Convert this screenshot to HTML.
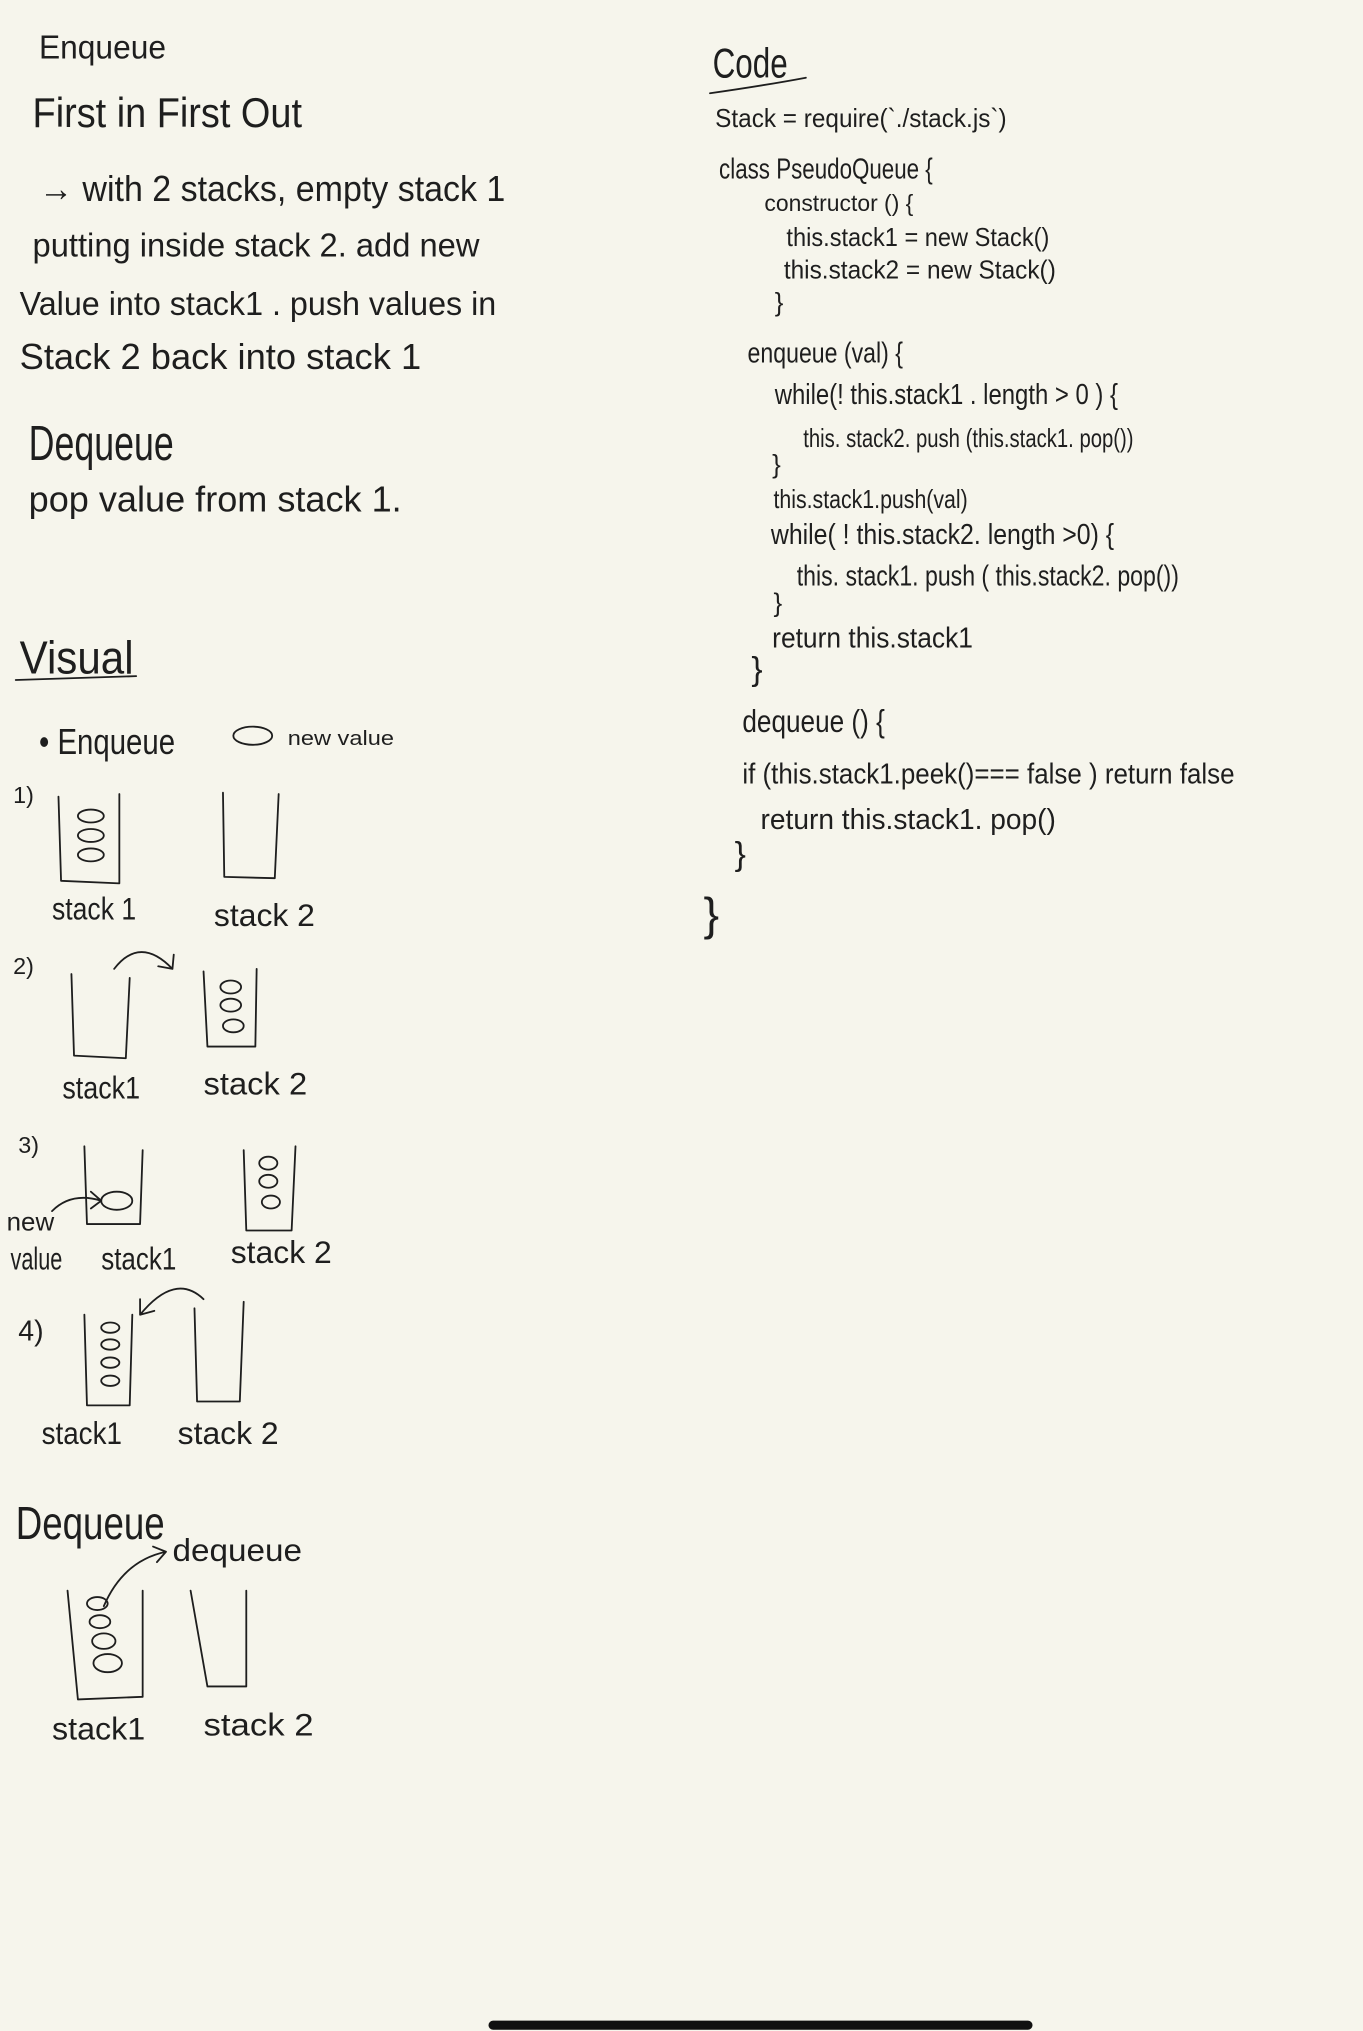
<!DOCTYPE html>
<html><head><meta charset="utf-8"><style>
html,body{margin:0;padding:0;background:#f6f5ec;}
svg{display:block;}
text{font-family:"Liberation Sans",sans-serif;fill:#1e1e1e;}
.s{fill:none;stroke:#1e1e1e;stroke-width:1.4;stroke-linecap:round;stroke-linejoin:round;}
</style></head><body>
<svg width="1363" height="2031" viewBox="0 0 1052 1568" xmlns="http://www.w3.org/2000/svg">
<rect width="1052" height="1568" fill="#f6f5ec"/>
<!-- left text -->
<text x="30" y="45" font-size="26" textLength="98" lengthAdjust="spacingAndGlyphs">Enqueue</text>
<text x="25" y="98" font-size="32" textLength="208" lengthAdjust="spacingAndGlyphs">First in First Out</text>
<text x="30" y="155" font-size="28" textLength="360" lengthAdjust="spacingAndGlyphs">→ with 2 stacks, empty stack 1</text>
<text x="25" y="198" font-size="26" textLength="345" lengthAdjust="spacingAndGlyphs">putting inside stack 2. add new</text>
<text x="15" y="243" font-size="26" textLength="368" lengthAdjust="spacingAndGlyphs">Value into stack1 . push values in</text>
<text x="15" y="285" font-size="28" textLength="310" lengthAdjust="spacingAndGlyphs">Stack 2 back into stack 1</text>
<text x="22" y="355" font-size="38" textLength="112" lengthAdjust="spacingAndGlyphs">Dequeue</text>
<text x="22" y="395" font-size="28" textLength="288" lengthAdjust="spacingAndGlyphs">pop value from stack 1.</text>
<text x="15" y="520" font-size="36" textLength="88" lengthAdjust="spacingAndGlyphs">Visual</text>
<path class="s" d="M12,525 L105,522"/>
<text x="30" y="582" font-size="28" textLength="105" lengthAdjust="spacingAndGlyphs">• Enqueue</text>
<ellipse class="s" cx="195" cy="568" rx="15" ry="7"/>
<text x="222" y="575" font-size="16" textLength="82" lengthAdjust="spacingAndGlyphs">new value</text>

<!-- 1 -->
<text x="10" y="620" font-size="18">1)</text>
<path class="s" d="M45,615 L47,680 L92,682 L92,613"/>
<ellipse class="s" cx="70" cy="630" rx="10" ry="5"/>
<ellipse class="s" cx="70" cy="645" rx="10" ry="5"/>
<ellipse class="s" cx="70" cy="660" rx="10" ry="5"/>
<path class="s" d="M172,612 L173,677 L212,678 L215,613"/>
<text x="40" y="710" font-size="24" textLength="65" lengthAdjust="spacingAndGlyphs">stack 1</text>
<text x="165" y="715" font-size="24" textLength="78" lengthAdjust="spacingAndGlyphs">stack 2</text>

<!-- 2 -->
<text x="10" y="752" font-size="18">2)</text>
<path class="s" d="M55,752 L57,815 L97,817 L100,755"/>
<path class="s" d="M88,748 Q108,722 133,748 M122,746 L133,748 L134,737"/>
<path class="s" d="M157,750 L160,808 L197,808 L198,748"/>
<ellipse class="s" cx="178" cy="762" rx="8" ry="5"/>
<ellipse class="s" cx="178" cy="776" rx="8" ry="5"/>
<ellipse class="s" cx="180" cy="792" rx="8" ry="5"/>
<text x="48" y="848" font-size="24" textLength="60" lengthAdjust="spacingAndGlyphs">stack1</text>
<text x="157" y="845" font-size="24" textLength="80" lengthAdjust="spacingAndGlyphs">stack 2</text>

<!-- 3 -->
<text x="14" y="890" font-size="18">3)</text>
<path class="s" d="M65,885 L67,945 L108,945 L110,888"/>
<ellipse class="s" cx="90" cy="927" rx="12" ry="7"/>
<path class="s" d="M40,935 Q55,920 78,927 M70,920 L78,927 L70,933"/>
<text x="5" y="950" font-size="20">new</text>
<text x="8" y="980" font-size="24" textLength="40" lengthAdjust="spacingAndGlyphs">value</text>
<text x="78" y="980" font-size="24" textLength="58" lengthAdjust="spacingAndGlyphs">stack1</text>
<path class="s" d="M188,888 L190,950 L225,950 L228,885"/>
<ellipse class="s" cx="207" cy="898" rx="7" ry="5"/>
<ellipse class="s" cx="207" cy="912" rx="7" ry="5"/>
<ellipse class="s" cx="209" cy="928" rx="7" ry="5"/>
<text x="178" y="975" font-size="24" textLength="78" lengthAdjust="spacingAndGlyphs">stack 2</text>

<!-- 4 -->
<text x="14" y="1035" font-size="22">4)</text>
<path class="s" d="M65,1015 L67,1085 L100,1085 L102,1015"/>
<ellipse class="s" cx="85" cy="1025" rx="7" ry="4"/>
<ellipse class="s" cx="85" cy="1038" rx="7" ry="4"/>
<ellipse class="s" cx="85" cy="1052" rx="7" ry="4"/>
<ellipse class="s" cx="85" cy="1066" rx="7" ry="4"/>
<path class="s" d="M150,1010 L152,1082 L185,1082 L188,1005"/>
<path class="s" d="M157,1003 Q135,982 108,1015 M108,1003 L108,1015 L119,1012"/>
<text x="32" y="1115" font-size="24" textLength="62" lengthAdjust="spacingAndGlyphs">stack1</text>
<text x="137" y="1115" font-size="24" textLength="78" lengthAdjust="spacingAndGlyphs">stack 2</text>

<!-- Dequeue visual -->
<text x="12" y="1188" font-size="36" textLength="115" lengthAdjust="spacingAndGlyphs">Dequeue</text>
<text x="133" y="1205" font-size="24" textLength="100" lengthAdjust="spacingAndGlyphs">dequeue</text>
<path class="s" d="M80,1240 Q95,1205 128,1198 M118,1194 L128,1198 L121,1206"/>
<path class="s" d="M52,1228 L60,1312 L110,1310 L110,1228"/>
<ellipse class="s" cx="75" cy="1238" rx="8" ry="5"/>
<ellipse class="s" cx="77" cy="1252" rx="8" ry="5"/>
<ellipse class="s" cx="80" cy="1267" rx="9" ry="6"/>
<ellipse class="s" cx="83" cy="1284" rx="11" ry="7"/>
<path class="s" d="M147,1228 L160,1302 L190,1302 L190,1228"/>
<text x="40" y="1343" font-size="24" textLength="72" lengthAdjust="spacingAndGlyphs">stack1</text>
<text x="157" y="1340" font-size="24" textLength="85" lengthAdjust="spacingAndGlyphs">stack 2</text>

<!-- code -->
<text x="550" y="60" font-size="32" textLength="58" lengthAdjust="spacingAndGlyphs">Code</text>
<path class="s" d="M548,72 Q590,66 622,60"/>
<text x="552" y="98" font-size="20" textLength="225" lengthAdjust="spacingAndGlyphs">Stack = require(`./stack.js`)</text>
<text x="555" y="138" font-size="22" textLength="165" lengthAdjust="spacingAndGlyphs">class PseudoQueue {</text>
<text x="590" y="163" font-size="18" textLength="115" lengthAdjust="spacingAndGlyphs">constructor () {</text>
<text x="607" y="190" font-size="20" textLength="203" lengthAdjust="spacingAndGlyphs">this.stack1 = new Stack()</text>
<text x="605" y="215" font-size="20" textLength="210" lengthAdjust="spacingAndGlyphs">this.stack2 = new Stack()</text>
<text x="598" y="240" font-size="20">}</text>
<text x="577" y="280" font-size="22" textLength="120" lengthAdjust="spacingAndGlyphs">enqueue (val) {</text>
<text x="598" y="312" font-size="22" textLength="265" lengthAdjust="spacingAndGlyphs">while(! this.stack1 . length &gt; 0 ) {</text>
<text x="620" y="345" font-size="20" textLength="255" lengthAdjust="spacingAndGlyphs">this. stack2. push (this.stack1. pop())</text>
<text x="596" y="365" font-size="20">}</text>
<text x="597" y="392" font-size="20" textLength="150" lengthAdjust="spacingAndGlyphs">this.stack1.push(val)</text>
<text x="595" y="420" font-size="22" textLength="265" lengthAdjust="spacingAndGlyphs">while( ! this.stack2. length &gt;0) {</text>
<text x="615" y="452" font-size="22" textLength="295" lengthAdjust="spacingAndGlyphs">this. stack1. push ( this.stack2. pop())</text>
<text x="597" y="472" font-size="20">}</text>
<text x="596" y="500" font-size="22" textLength="155" lengthAdjust="spacingAndGlyphs">return this.stack1</text>
<text x="580" y="525" font-size="26">}</text>
<text x="573" y="565" font-size="24" textLength="110" lengthAdjust="spacingAndGlyphs">dequeue () {</text>
<text x="573" y="605" font-size="22" textLength="380" lengthAdjust="spacingAndGlyphs">if (this.stack1.peek()=== false ) return false</text>
<text x="587" y="640" font-size="22" textLength="228" lengthAdjust="spacingAndGlyphs">return    this.stack1. pop()</text>
<text x="567" y="668" font-size="26">}</text>
<text x="543" y="718" font-size="36">}</text>

<rect x="377" y="1560" width="420" height="7" rx="3.5" fill="#111"/>
</svg>
</body></html>
